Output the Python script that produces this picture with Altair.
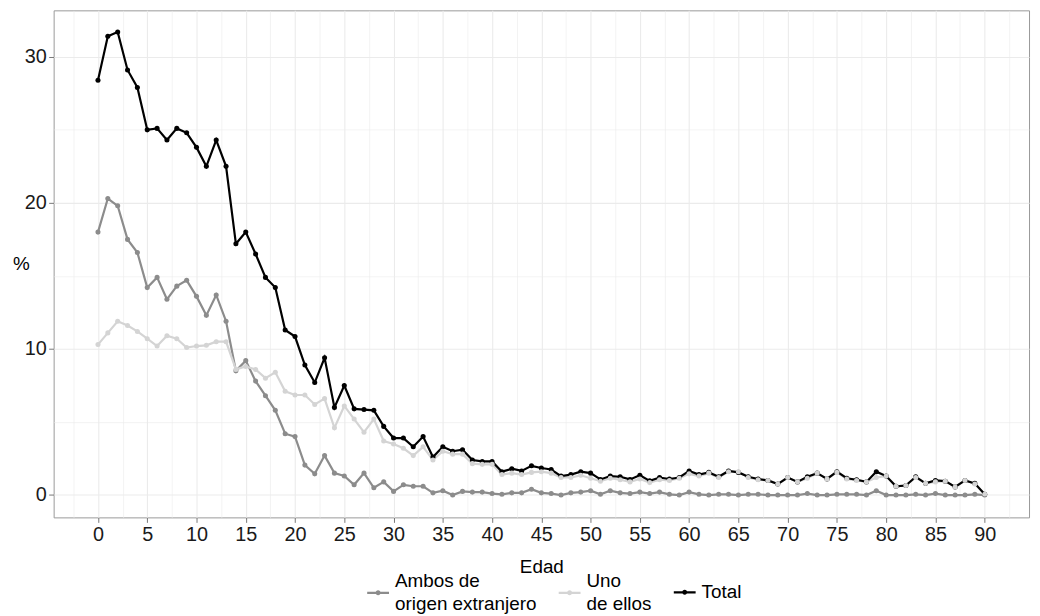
import altair as alt
import pandas as pd

ages = list(range(91))

ambos = [18.0, 20.3, 19.8, 17.5, 16.6, 14.2, 14.9, 13.4, 14.3, 14.7,
         13.6, 12.3, 13.7, 11.9, 8.5, 9.2, 7.8, 6.8, 5.8, 4.2,
         4.0, 2.05, 1.45, 2.7, 1.5, 1.3, 0.7, 1.5, 0.5, 0.9,
         0.25, 0.7, 0.6, 0.6, 0.15, 0.3, 0.0, 0.25, 0.2, 0.2,
         0.1, 0.05, 0.15, 0.15, 0.4, 0.15, 0.1, 0.0, 0.15, 0.2,
         0.3, 0.05, 0.3, 0.15, 0.1, 0.2, 0.1, 0.2, 0.05, 0.0,
         0.2, 0.05, 0.0, 0.05, 0.05, 0.0, 0.05, 0.05, 0.0, 0.0,
         0.0, 0.0, 0.1, 0.0, 0.0, 0.05, 0.05, 0.05, 0.0, 0.3,
         0.0, 0.0, 0.0, 0.05, 0.0, 0.1, 0.0, 0.0, 0.0, 0.05,
         0.0]

uno = [10.3, 11.1, 11.9, 11.6, 11.2, 10.7, 10.2, 10.9, 10.7, 10.1,
       10.2, 10.25, 10.5, 10.5, 8.6, 8.8, 8.6, 8.0, 8.4, 7.1,
       6.85, 6.85, 6.2, 6.6, 4.6, 6.1, 5.2, 4.3, 5.2, 3.7,
       3.5, 3.2, 2.7, 3.3, 2.4, 3.0, 2.8, 2.8, 2.15, 2.1,
       2.1, 1.4, 1.5, 1.4, 1.55, 1.6, 1.5, 1.2, 1.2, 1.35,
       1.15, 0.95, 1.15, 1.05, 0.9, 1.1, 0.85, 1.05, 1.0, 1.15,
       1.45, 1.3, 1.5, 1.2, 1.6, 1.6, 1.2, 1.05, 1.0, 0.75,
       1.2, 0.9, 1.15, 1.5, 1.1, 1.55, 1.1, 1.0, 0.9, 1.2,
       1.3, 0.6, 0.65, 1.2, 0.8, 0.9, 0.95, 0.55, 1.0, 0.75,
       0.05]

total = [28.4, 31.4, 31.7, 29.1, 27.9, 25.0, 25.1, 24.3, 25.1, 24.8,
         23.8, 22.5, 24.3, 22.5, 17.2, 18.0, 16.5, 14.9, 14.2, 11.3,
         10.85, 8.9, 7.7, 9.4, 6.0, 7.5, 5.9, 5.85, 5.8, 4.7,
         3.9, 3.9, 3.3, 4.0, 2.6, 3.3, 3.0, 3.1, 2.4, 2.3,
         2.3, 1.6, 1.8, 1.65, 2.0, 1.85, 1.75, 1.3, 1.4, 1.6,
         1.5, 1.07, 1.3, 1.25, 1.07, 1.35, 0.97, 1.2, 1.1, 1.2,
         1.65, 1.4, 1.55, 1.25, 1.65, 1.55, 1.25, 1.1, 1.0, 0.75,
         1.2, 0.9, 1.25, 1.5, 1.1, 1.6, 1.15, 1.05, 0.9, 1.6,
         1.3, 0.6, 0.65, 1.25, 0.8, 1.0, 0.95, 0.55, 1.0, 0.8,
         0.05]

series_names = ["Ambos de|origen extranjero", "Uno|de ellos", "Total"]
series_colors = ["#8c8c8c", "#d4d4d4", "#000000"]

x_tick_values = [-2.5 + 2.5 * i for i in range(39)]
y_tick_values = [0, 5, 10, 15, 20, 25, 30]

rows = []
for name, vals in zip(series_names, [ambos, uno, total]):
    for a, v in zip(ages, vals):
        rows.append({"edad": a, "pct": v, "serie": name})
df = pd.DataFrame(rows)

FONT = "Liberation Sans"

x_enc = alt.X(
    "edad:Q",
    scale=alt.Scale(domain=[-4.5, 94.5], nice=False, zero=False),
    axis=alt.Axis(
        values=x_tick_values,
        title="Edad",
        labelExpr="datum.value % 5 === 0 ? datum.label : ''",
        labelOverlap=False,
        labelFontSize=20,
        labelColor="#1a1a1a",
        labelPadding=2,
        tickSize=5,
        tickColor="#777777",
        tickOpacity={"condition": {"test": "datum.value % 5 === 0", "value": 1}, "value": 0},
        gridColor="#ebebeb",
        gridWidth={"condition": {"test": "datum.value % 5 === 0", "value": 1.1}, "value": 0.6},
        domain=False,
        titleFontSize=19,
        titleFontWeight="normal",
        titleColor="#000000",
        titlePadding=14,
    ),
)

y_enc = alt.Y(
    "pct:Q",
    scale=alt.Scale(domain=[-1.53, 33.18], nice=False, zero=False),
    axis=alt.Axis(
        values=y_tick_values,
        title="%",
        labelExpr="datum.value % 10 === 0 ? datum.label : ''",
        labelOverlap=False,
        labelFontSize=20,
        labelColor="#1a1a1a",
        labelPadding=2.5,
        tickSize=5,
        tickColor="#777777",
        tickOpacity={"condition": {"test": "datum.value % 10 === 0", "value": 1}, "value": 0},
        gridColor="#ebebeb",
        gridWidth={"condition": {"test": "datum.value % 10 === 0", "value": 1.1}, "value": 0.6},
        domain=False,
        titleAngle=0,
        titleFontSize=19,
        titleFontWeight="normal",
        titleColor="#000000",
        titleX=-33,
        titleY=255,
        titleAlign="center",
        titleBaseline="middle",
    ),
)

color_scale = alt.Scale(domain=series_names, range=series_colors)

symbol_plain = ("M-1,-0.1L1,-0.1L1,0.1L-1,0.1Z "
                "M0.23,0A0.23,0.23,0,1,1,-0.23,0A0.23,0.23,0,1,1,0.23,0Z")
symbol_low = ("M-1,0.99L1,0.99L1,1.19L-1,1.19Z "
              "M0.23,1.09A0.23,0.23,0,1,1,-0.23,1.09A0.23,0.23,0,1,1,0.23,1.09Z")

legend = alt.Legend(
    orient="none",
    legendX=316,
    legendY=564,
    direction="horizontal",
    title=None,
    labelExpr="split(datum.label, '|')",
    labelFont=FONT,
    labelFontSize=19,
    labelColor="#000000",
    labelLimit=300,
    labelOffset=6,
    columnPadding=22,
    padding=0,
    symbolType=alt.ExprRef(
        expr=f"indexof(datum.label, '|') >= 0 ? '{symbol_low}' : '{symbol_plain}'"
    ),
    symbolSize=484,
    symbolStrokeWidth=0,
    symbolOpacity=1,
)

color_enc = alt.Color("serie:N", scale=color_scale, legend=legend)

base = alt.Chart(df)

layers = []
for name in series_names:
    layers.append(
        base.transform_filter(alt.datum.serie == name)
        .mark_line(strokeWidth=2.2)
        .encode(x=x_enc, y=y_enc, color=color_enc)
    )

point_order = ["Ambos de|origen extranjero", "Total", "Uno|de ellos"]
for name in point_order:
    layers.append(
        base.transform_filter(alt.datum.serie == name)
        .mark_circle(size=26, opacity=1)
        .encode(x=x_enc, y=y_enc, color=color_enc)
    )

chart = (
    alt.layer(*layers)
    .properties(
        width=983,
        height=511,
        autosize=alt.AutoSizeParams(type="none"),
        padding={"left": 46, "top": 0, "right": 3, "bottom": 96},
    )
    .configure(font=FONT, style={"guide-label": {"lineHeight": 23}})
    .configure_view(stroke="#999999", strokeWidth=1)
)

chart.save("out.html", embed_options={"renderer": "svg", "actions": False})
